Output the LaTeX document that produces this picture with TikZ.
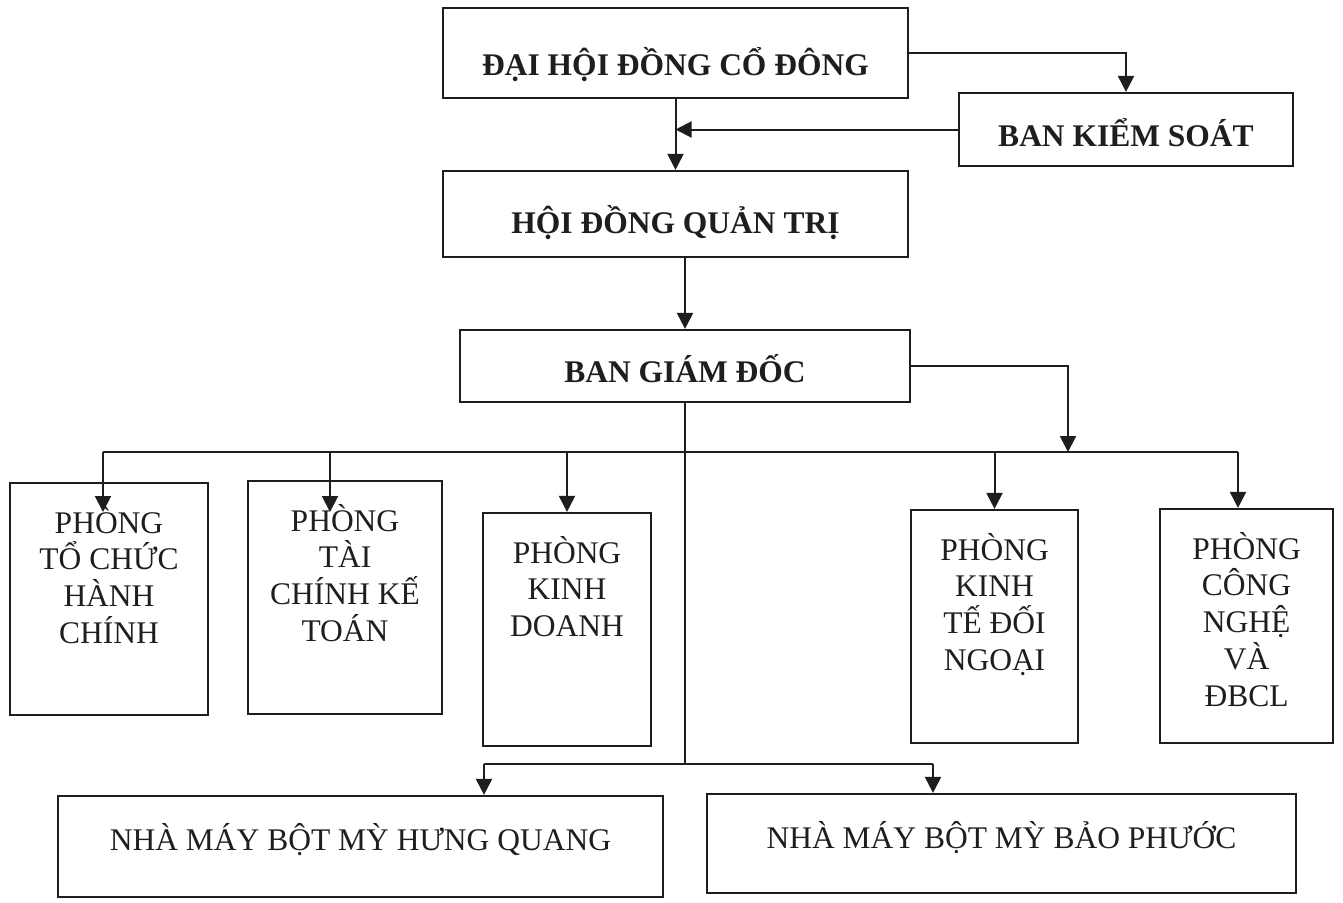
\documentclass[tikz,border=0pt]{standalone}
\usepackage{fontspec}
\setmainfont{Liberation Serif}
\usetikzlibrary{arrows.meta}
\definecolor{ink}{HTML}{1E1E1E}
\newcommand\orgtext[4]{\parbox[t][#2pt][t]{#1pt}{\fontsize{31.5}{36.8}\selectfont\centering\rule{0pt}{#3pt}#4\par}}
\tikzset{
  orgbox/.style={draw=ink, line width=2.2pt, inner sep=0pt, anchor=center, text=ink},
  conn/.style={draw=ink, line width=2pt},
  arr/.style={conn, -{Triangle[width=16pt,length=16pt]}},
}
\begin{document}
\begin{tikzpicture}[x=1pt,y=-1pt]
\fill[white] (0,0) rectangle (1343,902);
\useasboundingbox (0,0) rectangle (1343,902);

% top level
\node[orgbox] (dh)  at (675.5,53)   {\orgtext{465}{90}{67}{\bfseries ĐẠI HỘI ĐỒNG CỔ ĐÔNG}};
\node[orgbox] (bks) at (1126,129.5) {\orgtext{334}{73}{53}{\bfseries BAN KIỂM SOÁT}};
\node[orgbox] (hd)  at (675.5,214)  {\orgtext{465}{86}{62}{\bfseries HỘI ĐỒNG QUẢN TRỊ}};
\node[orgbox] (bgd) at (685,366)    {\orgtext{450}{72}{52}{\bfseries BAN GIÁM ĐỐC}};

% departments
\node[orgbox] (p1) at (109,599)    {\orgtext{198}{232}{50}{PHÒNG\\TỔ CHỨC\\HÀNH\\CHÍNH}};
\node[orgbox] (p2) at (345,597.5)  {\orgtext{194}{233}{50}{PHÒNG\\TÀI\\CHÍNH KẾ\\TOÁN}};
\node[orgbox] (p3) at (567,629.5)  {\orgtext{168}{233}{50}{PHÒNG\\KINH\\DOANH}};
\node[orgbox] (p4) at (994.5,626.5){\orgtext{167}{233}{50}{PHÒNG\\KINH\\TẾ ĐỐI\\NGOẠI}};
\node[orgbox] (p5) at (1246.5,626) {\orgtext{173}{234}{50}{PHÒNG\\CÔNG\\NGHỆ\\VÀ\\ĐBCL}};

% factories
\node[orgbox] (nm1) at (360.5,846.5) {\orgtext{605}{101}{54}{NHÀ MÁY BỘT MỲ HƯNG QUANG}};
\node[orgbox] (nm2) at (1001.5,843.5){\orgtext{589}{99}{54}{NHÀ MÁY BỘT MỲ BẢO PHƯỚC}};

% coordinates
\coordinate (busL) at (103,452);
\coordinate (busM) at (330,452);
\coordinate (busR) at (1068,452);
\coordinate (busE) at (1238,452);
\coordinate (t1) at (103,512);
\coordinate (t2) at (330,512);
\coordinate (j2) at (685,764);
\coordinate (bl) at (484,764);
\coordinate (br) at (933,764);

% connectors
\draw[arr] (dh.east) -| (bks.north);
\draw[arr] (bks.west) -- (bks.west -| dh.south);
\draw[arr] (dh.south) -- (hd.north);
\draw[arr] (bgd.north |- hd.south) -- (bgd.north);
\draw[arr] (bgd.east) -| (busR);
\draw[conn] (busL) -- (busE);
\draw[arr] (busL) -- (t1);
\draw[arr] (busM) -- (t2);
\draw[arr] (p3.north |- busL) -- (p3.north);
\draw[arr] (p4.north |- busL) -- (p4.north);
\draw[arr] (busE) -- (busE |- p5.north);
\draw[conn] (bgd.south) -- (j2);
\draw[conn] (bl) -- (br);
\draw[arr] (bl) -- (bl |- nm1.north);
\draw[arr] (br) -- (br |- nm2.north);
\end{tikzpicture}
\end{document}
